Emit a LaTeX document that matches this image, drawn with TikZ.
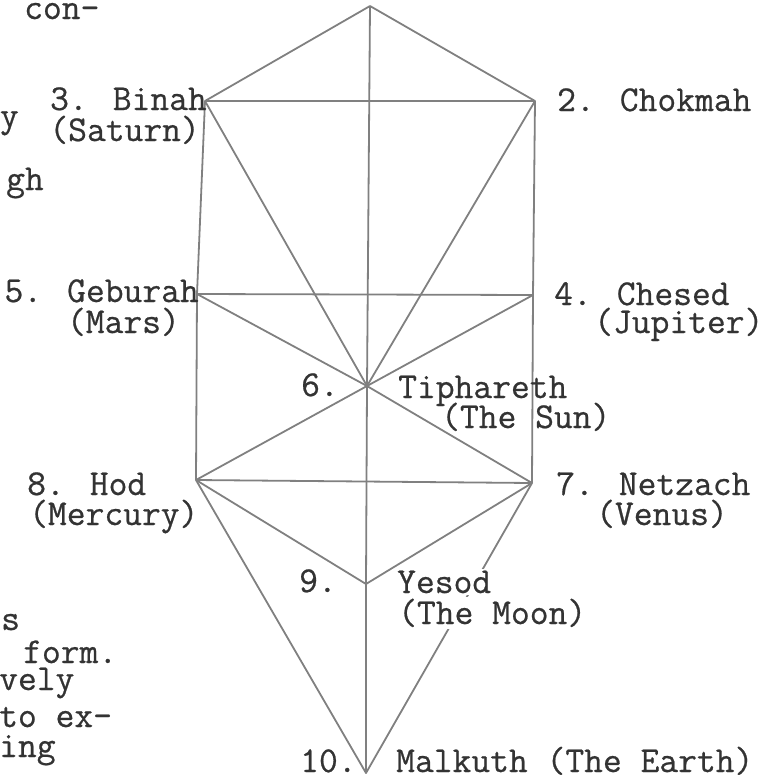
\documentclass[tikz,border=0pt]{standalone}
\usepackage{fontspec}
\usepackage{xcolor}
\usepackage{tikz}
\usetikzlibrary{positioning}
\newfontfamily\typer[FakeBold=0.6]{Latin Modern Mono}
\definecolor{TPath}{HTML}{808080}
\definecolor{TInk}{HTML}{333333}

\begin{document}
\begin{tikzpicture}[x=1pt,y=-1pt,
  tline/.style={TPath,line width=1.8pt,line join=round},
  lbl/.style={font=\fontsize{36.5}{40}\selectfont\typer,text=TInk,inner sep=0pt}]
  \useasboundingbox (0,0) rectangle (784,774);
  \clip (0,0) rectangle (784,774);
  % the ten sephiroth
  \coordinate (kether) at (370,6);
  \coordinate (chokmah) at (535,101);
  \coordinate (binah) at (205,101);
  \coordinate (chesed) at (533,295);
  \coordinate (geburah) at (197,294);
  \coordinate (tiphareth) at (367,386);
  \coordinate (netzach) at (532,483);
  \coordinate (hod) at (196,480);
  \coordinate (yesod) at (366,584);
  \coordinate (malkuth) at (366,773);
  % the paths
  \draw[tline] (kether)--(chokmah)--(binah)--(kether);
  \draw[tline] (kether)--(tiphareth)--(yesod)--(malkuth);
  \draw[tline] (chokmah)--(chesed)--(netzach);
  \draw[tline] (binah)--(geburah)--(hod);
  \draw[tline] (binah)--(tiphareth)--(chokmah);
  \draw[tline] (geburah)--(chesed);
  \draw[tline] (geburah)--(tiphareth)--(chesed);
  \draw[tline] (hod)--(tiphareth)--(netzach);
  \draw[tline] (hod)--(netzach);
  \draw[tline] (hod)--(yesod)--(netzach);
  \draw[tline] (hod)--(malkuth)--(netzach);
  % names
  \node[lbl,anchor=base east] (binahname) at (207,110) {3. Binah};
  \node[lbl,anchor=base east] (binahplanet) at (200,141) {(Saturn)};
  \node[lbl,anchor=base west] (chokmahname) at (557,111) {2. Chokmah};
  \node[lbl,anchor=base east] (geburahname) at (199,302) {5. Geburah};
  \node[lbl,anchor=base east] (geburahplanet) at (180,333) {(Mars)};
  \node[lbl,anchor=base west] (chesedname) at (554,305) {4. Chesed};
  \node[lbl,anchor=base west] (chesedplanet) at (594,333) {(Jupiter)};
  \node[lbl,anchor=base west] (tipharethnum) at (301,396) {6.};
  \node[lbl,anchor=base west] (tipharethname) at (398,398) {Tiphareth};
  \node[lbl,anchor=base west] (tipharethplanet) at (441,428) {(The Sun)};
  \node[lbl,anchor=base west] (hodname) at (27,495) {8. Hod};
  \node[lbl,anchor=base west] (hodplanet) at (29,525) {(Mercury)};
  \node[lbl,anchor=base west] (netzachname) at (556,495) {7. Netzach};
  \node[lbl,anchor=base west] (netzachplanet) at (596,525) {(Venus)};
  \node[lbl,anchor=base west] (yesodnum) at (299,592) {9.};
  \node[lbl,anchor=base west,fill=white,inner ysep=2pt] (yesodname) at (397,593) {Yesod};
  \node[lbl,anchor=base west,fill=white,inner ysep=2pt] (yesodplanet) at (398,624) {(The Moon)};
  \node[lbl,anchor=base west] (malkuthnum) at (300,772) {10.};
  \node[lbl,anchor=base west] (malkuthname) at (396,772) {Malkuth (The Earth)};
  % cut text of the page
  \node[lbl,anchor=base west] (cuta) at (24,19) {con-};
  \node[lbl,anchor=base east] (cutb) at (19,127) {y};
  \node[lbl,anchor=base east] (cutc) at (44,190) {gh};
  \node[lbl,anchor=base west] (cutd) at (1,630) {s};
  \node[lbl,anchor=base west] (cute) at (23,663) {form.};
  \node[lbl,anchor=base west] (cutf) at (-1,690) {vely};
  \node[lbl,anchor=base west] (cutg) at (-1,727) {to ex-};
  \node[lbl,anchor=base west] (cuth) at (-1,757) {ing};
\end{tikzpicture}
\end{document}
